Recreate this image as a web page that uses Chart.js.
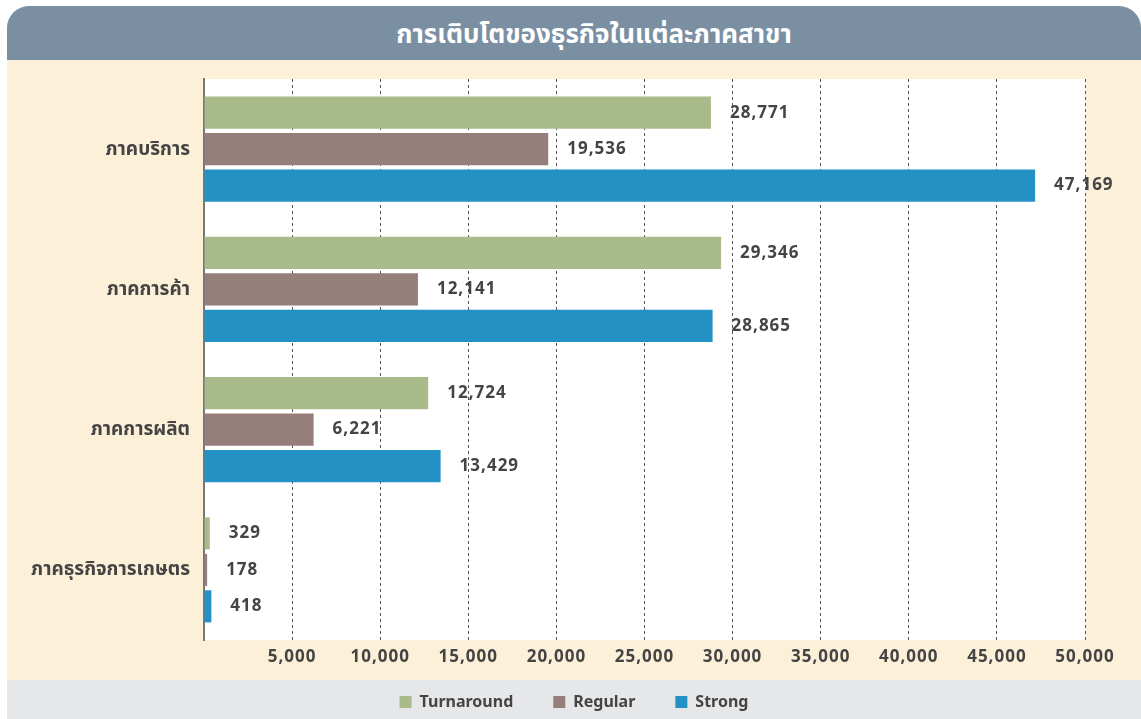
<!DOCTYPE html>
<html>
<head>
<meta charset="utf-8">
<script src="https://cdn.jsdelivr.net/npm/chart.js@4.4.1/dist/chart.umd.min.js"></script>
<style>
  html, body { margin: 0; padding: 0; background: #ffffff; }
  .card {
    position: absolute; left: 7px; top: 6px; width: 1134px; height: 713px;
    border-radius: 22px 22px 0 0; overflow: hidden; background: #fdf0d9;
  }
  .title {
    height: 54px; line-height: 54px; background: #7a8fa2; color: #ffffff;
    font-family: 'Noto Sans', 'Noto Sans Thai', Tahoma, sans-serif;
    font-weight: bold; font-size: 26px; text-align: center; padding-left: 40px;
  }
  .chartbox { position: absolute; left: 0; top: 54px; width: 1134px; height: 659px; }
</style>
</head>
<body>
<div class="card">
  <div class="title">การเติบโตของธุรกิจในแต่ละภาคสาขา</div>
  <div class="chartbox"><canvas id="chart" width="1134" height="659"></canvas></div>
</div>
<script>
const categories = ['ภาคบริการ', 'ภาคการค้า', 'ภาคการผลิต', 'ภาคธุรกิจการเกษตร'];
const turnaround = [28771, 29346, 12724, 329];
const regular = [19536, 12141, 6221, 178];
const strong = [47169, 28865, 13429, 418];
const seriesNames = ['Turnaround', 'Regular', 'Strong'];
const seriesColors = ['#a9bb8a', '#967e7b', '#2391c3'];

const FONT = "'Noto Sans', 'Noto Sans Thai', Tahoma, sans-serif";
const TEXT = '#444444';

// white plot area + grey legend band
const backdrop = {
  id: 'backdrop',
  beforeDraw(chart) {
    const { ctx, chartArea: a } = chart;
    ctx.save();
    ctx.fillStyle = '#e6e7e9';
    ctx.fillRect(0, 620, chart.width, chart.height - 620);
    ctx.fillStyle = '#ffffff';
    ctx.fillRect(a.left, a.top, a.right - a.left, a.bottom - a.top);
    ctx.restore();
  }
};

// keep the legend inside the grey band, centred on the whole card
const legendBand = {
  id: 'legendBand',
  beforeLayout(chart) {
    const lg = chart.legend;
    if (lg && !lg._fixed) {
      const fit = lg.fit;
      lg.fit = function () { fit.call(this); this.height = 39; };
      lg._fixed = true;
    }
  },
  afterLayout(chart) {
    const lg = chart.legend;
    lg.top = 642 - 8 - lg.options.labels.padding;
    lg.left = 0;
    lg.right = chart.width;
    lg.width = chart.width;
    // slightly spaced digits on the x ticks
    const sx = chart.scales.x;
    if (!sx._spaced) {
      const draw = sx.drawLabels;
      sx.drawLabels = function (area) {
        this.ctx.save();
        this.ctx.letterSpacing = '1px';
        draw.call(this, area);
        this.ctx.restore();
      };
      sx._spaced = true;
    }
  }
};

// value labels after the bars
const valueLabels = {
  id: 'valueLabels',
  afterDatasetsDraw(chart) {
    const { ctx } = chart;
    ctx.save();
    ctx.font = 'bold 17px ' + FONT;
    ctx.letterSpacing = '1px';
    ctx.fillStyle = TEXT;
    ctx.textAlign = 'left';
    ctx.textBaseline = 'middle';
    chart.data.datasets.forEach((ds, i) => {
      chart.getDatasetMeta(i).data.forEach((bar, j) => {
        ctx.fillText(ds.data[j].toLocaleString('en-US'), bar.x + 19, bar.y);
      });
    });
    ctx.restore();
  }
};

new Chart(document.getElementById('chart'), {
  type: 'bar',
  data: {
    labels: categories,
    datasets: [turnaround, regular, strong].map((d, i) => ({
      label: seriesNames[i],
      data: d,
      backgroundColor: seriesColors[i],
      categoryPercentage: 0.78,
      barPercentage: 0.88
    }))
  },
  options: {
    indexAxis: 'y',
    responsive: false,
    devicePixelRatio: 1,
    animation: false,
    layout: { padding: { top: 19, right: 56, left: 0, bottom: 0 } },
    plugins: {
      tooltip: { enabled: false },
      legend: {
        position: 'bottom',
        labels: {
          boxWidth: 12, boxHeight: 12, padding: 40,
          color: TEXT, font: { family: FONT, size: 16, weight: 'bold' }
        }
      }
    },
    scales: {
      x: {
        min: 0, max: 50000,
        afterFit(s) { s.height = 40; },
        border: { display: false, dash: [3, 3] },
        grid: {
          color: ctx => (ctx.tick && ctx.tick.value === 0 ? 'rgba(0,0,0,0)' : '#555555'),
          lineWidth: 1, drawTicks: false
        },
        ticks: {
          stepSize: 5000, padding: 7, color: TEXT,
          font: { family: FONT, size: 17, weight: 'bold' },
          callback: v => (v === 0 ? '' : v.toLocaleString('en-US'))
        }
      },
      y: {
        afterFit(s) { s.width = 197; s.paddingTop = 0; s.paddingBottom = 0; },
        border: { display: true, color: '#777777', width: 2 },
        grid: { display: false, drawTicks: false },
        ticks: { padding: 14, color: TEXT, font: { family: FONT, size: 19, weight: 'bold' } }
      }
    }
  },
  plugins: [backdrop, legendBand, valueLabels]
});
</script>
</body>
</html>
